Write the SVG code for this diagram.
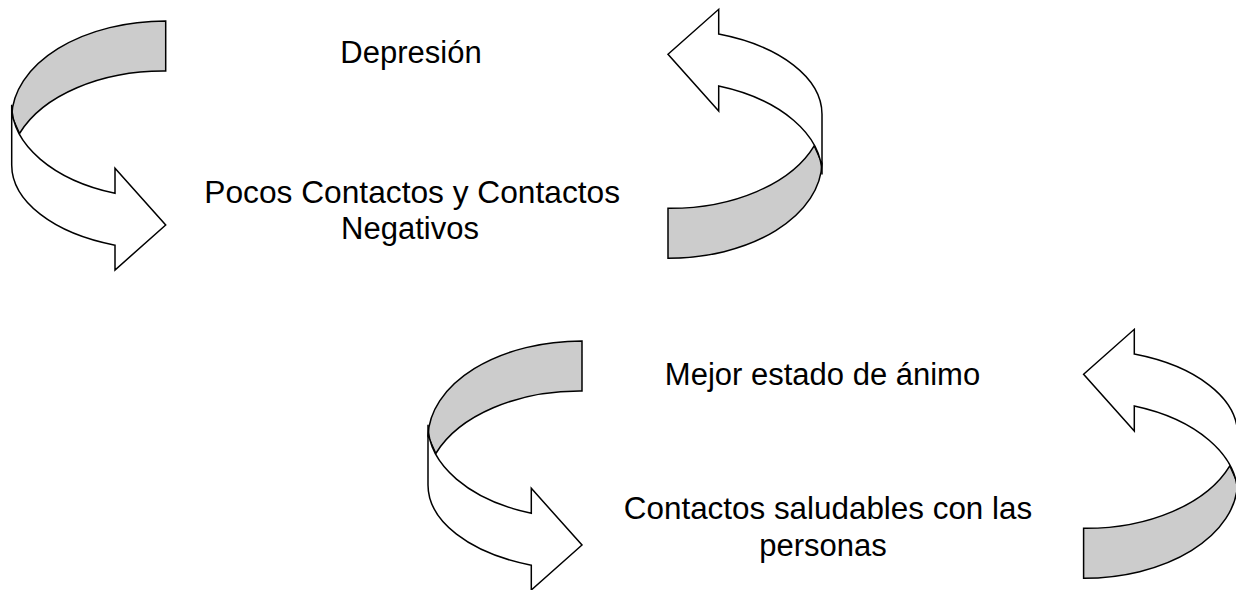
<svg xmlns="http://www.w3.org/2000/svg" xmlns:xlink="http://www.w3.org/1999/xlink" width="1236" height="590" viewBox="0 0 1236 590">
  <style>
    .back { fill: #cccccc; stroke: #000000; stroke-width: 1.5; stroke-linejoin: miter; }
    .front { fill: #ffffff; stroke: #000000; stroke-width: 1.5; stroke-linejoin: miter; }
    .lbl { font-family: "Liberation Sans", Arial, sans-serif; font-size: 31px; fill: #000000; text-anchor: middle; }
  </style>
  <defs>
    <g id="curvedArrow">
      <path class="back" d="M165.7,21 A154,97 0 0 0 11.7,116 L19.5,133.5 A154,97 0 0 1 165.7,71 Z"/>
      <path class="front" d="M11.7,105 L11.7,165 A154,85 0 0 0 115,245.2 L115,270 L165.7,225 L115,168.3 L115,193.3 A154,93.75 0 0 1 11.7,104.8 Z"/>
    </g>
  </defs>
  <rect width="1236" height="590" fill="#ffffff"/>
  <g id="connectors">
    <use id="arrow1" xlink:href="#curvedArrow" href="#curvedArrow"/>
    <use id="arrow2" xlink:href="#curvedArrow" href="#curvedArrow" transform="matrix(-1,0,0,-1,833.7,279.3)"/>
    <use id="arrow3" xlink:href="#curvedArrow" href="#curvedArrow" transform="translate(416.3,320)"/>
    <use id="arrow4" xlink:href="#curvedArrow" href="#curvedArrow" transform="matrix(-1,0,0,-1,1249.3,599.3)"/>
  </g>
  <g id="node-depresion">
    <text class="lbl" x="411" y="63">Depresión</text>
  </g>
  <g id="node-pocos">
    <text class="lbl" x="412.2" y="202.5" style="font-size:31.7px">Pocos Contactos y Contactos</text>
    <text class="lbl" x="410" y="239">Negativos</text>
  </g>
  <g id="node-mejor">
    <text class="lbl" x="822.5" y="385">Mejor estado de ánimo</text>
  </g>
  <g id="node-saludables">
    <text class="lbl" x="828" y="518.5" style="font-size:31.4px">Contactos saludables con las</text>
    <text class="lbl" x="823" y="555.5">personas</text>
  </g>
</svg>
